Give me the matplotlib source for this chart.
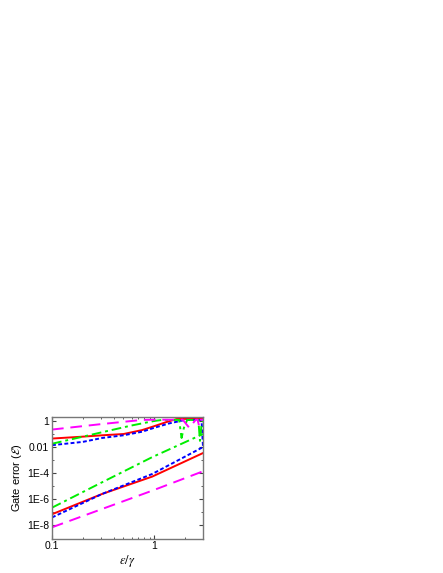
import numpy as np
import matplotlib
matplotlib.use("Agg")
import matplotlib.pyplot as plt
from matplotlib.ticker import FixedLocator, NullFormatter

plt.rcParams['font.family'] = ['Liberation Sans', 'DejaVu Sans']
plt.rcParams['mathtext.fontset'] = 'stix'

# upper branch (large error)
x_red_hi = [0.1, 0.2, 0.31, 0.5, 0.76, 1.0, 1.3, 1.65, 2.0, 3.0]
y_red_hi = [0.045, 0.063, 0.08, 0.1, 0.2, 0.4, 0.8, 1.4, 1.45, 1.45]

x_blue_hi = [0.1, 0.2, 0.31, 0.5, 0.76, 1.0, 1.4, 2.0, 2.9, 3.0]
y_blue_hi = [0.014, 0.025, 0.05, 0.08, 0.15, 0.3, 0.65, 1.2, 1.2, 0.01]

x_green_hi = [0.1, 0.3, 0.6, 1.0, 1.2, 1.75, 1.85, 1.95, 2.1, 2.7, 2.8, 2.9, 3.0]
y_green_hi = [0.018, 0.13, 0.45, 1.0, 1.2, 1.2, 0.05, 0.3, 1.2, 1.2, 0.03, 0.5, 1.0]

x_mag_hi = [0.1, 0.3, 0.76, 1.0, 1.9, 2.2, 2.55, 2.65, 2.75, 2.85, 3.0]
y_mag_hi = [0.22, 0.57, 1.2, 1.25, 1.25, 0.3, 1.25, 1.25, 0.4, 1.25, 1.25]

# lower branch (small error)
x_red_lo = [0.1, 0.31, 0.955, 3.0]
y_red_lo = [7.2e-8, 2.6e-6, 5.5e-5, 3.5e-3]

x_blue_lo = [0.1, 0.31, 0.955, 3.0]
y_blue_lo = [4.1e-8, 2.6e-6, 8.7e-5, 1.0e-2]

x_green_lo = [0.1, 0.3, 0.955, 3.0]
y_green_lo = [2.3e-7, 1.8e-5, 1.7e-3, 0.1]

x_mag_lo = [0.1, 0.955, 3.0]
y_mag_lo = [7.2e-9, 4.6e-6, 1.4e-4]

fig = plt.figure(figsize=(4.43, 5.73), dpi=100)
ax = fig.add_axes([0.1174, 0.0602, 0.3409, 0.2120])

lw = 1.4
ax.plot(x_red_hi, y_red_hi, color='red', lw=lw)
ax.plot(x_red_lo, y_red_lo, color='red', lw=lw)
ax.plot(x_blue_hi, y_blue_hi, color='blue', lw=lw, dashes=(2, 1.2))
ax.plot(x_blue_lo, y_blue_lo, color='blue', lw=lw, dashes=(2, 1.2))
ax.plot(x_green_hi, y_green_hi, color='#00ee00', lw=lw, dashes=(5, 2, 1.5, 2))
ax.plot(x_green_lo, y_green_lo, color='#00ee00', lw=lw, dashes=(5, 2, 1.5, 2))
ax.plot(x_mag_hi, y_mag_hi, color='magenta', lw=lw, dashes=(6, 3.5))
ax.plot(x_mag_lo, y_mag_lo, color='magenta', lw=lw, dashes=(6, 3.5))

ax.set_xscale('log')
ax.set_yscale('log')
ax.set_xlim(0.1, 3)
ax.set_ylim(1e-9, 2)

ax.xaxis.set_major_locator(FixedLocator([0.1, 1]))
ax.set_xticklabels(['0.1', '1'])
ax.xaxis.set_minor_locator(FixedLocator([0.2, 0.3, 0.4, 0.5, 0.6, 0.7, 0.8, 0.9, 2, 3]))
ax.xaxis.set_minor_formatter(NullFormatter())

ax.yaxis.set_major_locator(FixedLocator([1e-8, 1e-6, 1e-4, 1e-2, 1]))
ax.set_yticklabels(['1E-8', '1E-6', '1E-4', '0.01', '1'])
ax.yaxis.set_minor_locator(FixedLocator([1e-9, 1e-7, 1e-5, 1e-3, 1e-1]))
ax.yaxis.set_minor_formatter(NullFormatter())

ax.tick_params(which='both', direction='in', top=True, right=True, labelsize=7.5, colors='#444444', labelcolor='black')
ax.tick_params(which='major', length=3, width=0.8, pad=2)
ax.tick_params(which='minor', length=1.5, width=0.6)
for s in ax.spines.values():
    s.set_color('#777777')
    s.set_linewidth(1.0)

ax.set_xlabel(r'$\varepsilon/\gamma$', fontsize=9, labelpad=1)
ax.set_ylabel(r'Gate error ($\mathcal{E}$)', fontsize=8, labelpad=2)

fig.savefig('out.png', dpi=100)
